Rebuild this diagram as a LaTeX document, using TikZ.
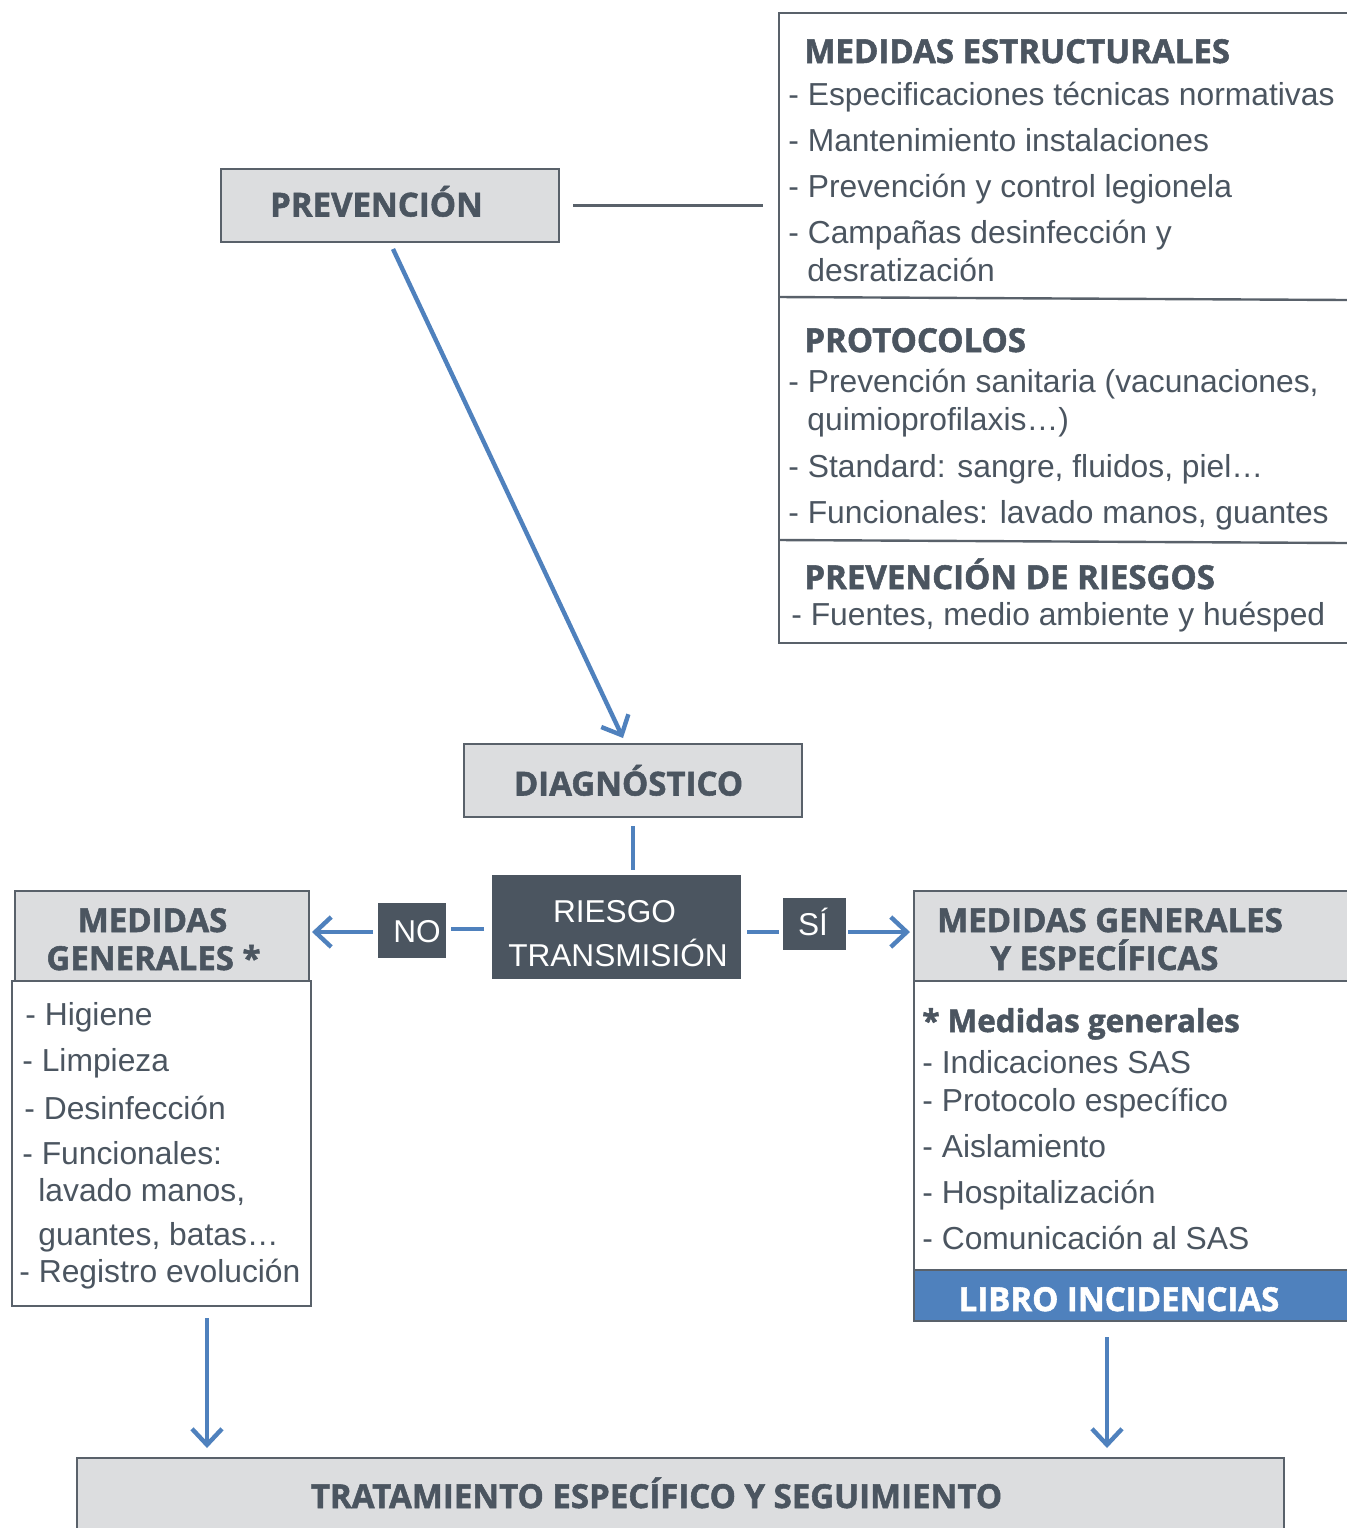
\documentclass[tikz,border=0pt]{standalone}
\usepackage{fontspec}
\setmainfont{Liberation Sans}
\newfontfamily\hd{Open Sans}[BoldFeatures={FakeBold=1.6}]
\usetikzlibrary{arrows.meta,calc}
\definecolor{ink}{HTML}{4B5560}
\definecolor{panel}{HTML}{DCDDDF}
\definecolor{flow}{HTML}{4F81BD}
\definecolor{edge}{HTML}{59616A}
\begin{document}
\begin{tikzpicture}[x=0.5pt,y=-0.5pt,
  bord/.style={draw=edge,line width=1.2pt},
  panelbox/.style={fill=panel,draw=edge,line width=1.2pt,inner sep=0,outer sep=0},
  darkbox/.style={fill=ink,inner sep=0,outer sep=0},
  area/.style={inner sep=0,outer sep=0},
  head/.style={anchor=base,text=ink,font=\hd\bfseries\fontsize{16.5}{20}\selectfont,inner sep=0},
  headl/.style={head,anchor=base west},
  item/.style={anchor=base west,text=ink,font=\fontsize{15.9}{19}\selectfont,inner sep=0},
  wtxt/.style={anchor=base,text=white,font=\fontsize{15.8}{19}\selectfont,inner sep=0},
  flowline/.style={draw=flow,line width=2.2pt},
  arr/.style={flowline,-{Straight Barb[length=8pt,width=15pt]}}]
\useasboundingbox[fill=white] (0,0) rectangle (1347,1528);

% ---------- prevention ----------
\node[panelbox,minimum width=169pt,minimum height=36.5pt] (prev) at (390,205.5) {};
\node[head] at (376.5,216.5) {PREVENCIÓN};

% ---------- structural measures panel (open on the right) ----------
\node[area,minimum width=284pt,minimum height=315pt] (estr) at (1063,328) {};
\draw[bord] (estr.north east) -- (estr.north west) -- (estr.south west) -- (estr.south east);
\draw[bord] (779,297) -- (1347,300);
\draw[bord] (779,540) -- (1347,543);
\draw[bord] ([xshift=7pt]prev.east) -- ([xshift=-8pt]prev.east -| estr.west);

\node[headl] at (804,63) {MEDIDAS ESTRUCTURALES};
\node[item] at (788,105) {- Especificaciones técnicas normativas};
\node[item] at (788,151) {- Mantenimiento instalaciones};
\node[item] at (788,197) {- Prevención y control legionela};
\node[item] at (788,243) {- Campañas desinfección y};
\node[item] at (807,281) {desratización};

\node[headl] at (804,352) {PROTOCOLOS};
\node[item] at (788,392) {- Prevención sanitaria (vacunaciones,};
\node[item] at (807,430) {quimioprofilaxis…)};
\node[item] at (788,477) {- Standard: sangre, fluidos, piel…};
\node[item] at (788,523) {- Funcionales: lavado manos, guantes};

\node[headl] at (804,589) {PREVENCIÓN DE RIESGOS};
\node[item] at (791,625) {- Fuentes, medio ambiente y huésped};

% ---------- diagnosis ----------
\node[panelbox,minimum width=169pt,minimum height=36.5pt] (diag) at (633,780.5) {};
\node[head] at (628.5,795.5) {DIAGNÓSTICO};

\draw[arr] ([xshift=1.5pt,yshift=-3.5pt]prev.south) -- ([xshift=-5pt,yshift=3pt]diag.north);

% ---------- transmission risk ----------
\node[darkbox,minimum width=124.5pt,minimum height=52pt] (risk) at (616.5,927) {};
\node[wtxt] at (614.5,922) {RIESGO};
\node[wtxt] at (618,966) {TRANSMISIÓN};

\node[darkbox,minimum width=34pt,minimum height=27.5pt] (no) at (412,930.5) {};
\node[wtxt] at (417,942) {NO};
\node[darkbox,minimum width=31.5pt,minimum height=26pt] (si) at (814.5,924) {};
\node[wtxt] at (813,935) {SÍ};

\draw[flowline] ([yshift=-4.5pt]diag.south) -- ($(diag.south |- risk.north)+(0,-5)$);

% ---------- general measures (left) ----------
\node[panelbox,minimum width=147pt,minimum height=45pt] (mglh) at (162,936) {};
\node[area,draw=edge,line width=1.2pt,minimum width=149.5pt,minimum height=162.5pt] (mgll) at (161.5,1143.5) {};
\node[head] at (152.5,932) {MEDIDAS};
\node[head] at (153.5,970) {GENERALES *};

\node[item] at (25,1025) {- Higiene};
\node[item] at (22,1071) {- Limpieza};
\node[item] at (24,1119) {- Desinfección};
\node[item] at (22,1164) {- Funcionales:};
\node[item] at (38,1201) {lavado manos,};
\node[item] at (38,1245) {guantes, batas…};
\node[item] at (19,1282) {- Registro evolución};

% ---------- general and specific measures (right, open on the right) ----------
\node[area,fill=panel,minimum width=216.5pt,minimum height=45pt] (mgeh) at (1130.5,936) {};
\node[area,minimum width=216.5pt,minimum height=144.5pt] (mgel) at (1130.5,1125.5) {};
\node[area,fill=flow,minimum width=216.5pt,minimum height=25.5pt] (libro) at (1130.5,1295.5) {};
\draw[bord] (mgeh.north east) -- (mgeh.north west) -- (libro.south west) -- (libro.south east);
\draw[bord] (mgeh.south west) -- (mgeh.south east);
\draw[bord] (libro.north west) -- (libro.north east);

\node[head] at (1110,932) {MEDIDAS GENERALES};
\node[head] at (1104.5,970) {Y ESPECÍFICAS};
\node[head,text=white] at (1119,1311) {LIBRO INCIDENCIAS};

\node[headl,font=\hd\bfseries\fontsize{15.7}{19}\selectfont] at (922,1032) {* Medidas generales};
\node[item] at (922,1073) {- Indicaciones SAS};
\node[item] at (922,1111) {- Protocolo específico};
\node[item] at (922,1157) {- Aislamiento};
\node[item] at (922,1203) {- Hospitalización};
\node[item] at (922,1249) {- Comunicación al SAS};

% ---------- risk branches ----------
\draw[flowline] ([xshift=-4pt,yshift=-1pt]risk.west) -- ([xshift=2.5pt,yshift=0.75pt]no.east);
\draw[arr] ([xshift=-2.5pt,yshift=-0.75pt]no.west) -- ([xshift=1.5pt,yshift=2pt]mglh.east);
\draw[flowline] ([xshift=3pt,yshift=-2.5pt]risk.east) -- ([xshift=-2pt,yshift=-4pt]si.west);
\draw[arr] ([xshift=1pt,yshift=-4pt]si.east) -- ([xshift=-2pt,yshift=2pt]mgeh.west);

% ---------- treatment ----------
\node[area,fill=panel,minimum width=603.5pt,minimum height=36pt] (trat) at (680.5,1494) {};
\draw[bord] (trat.south west) -- (trat.north west) -- (trat.north east) -- (trat.south east);
\node[head] at (656.5,1508) {TRATAMIENTO ESPECÍFICO Y SEGUIMIENTO};

\coordinate (lstart) at ($(mgll.south)+(45.5,12)$);
\coordinate (rstart) at ($(libro.south)+(-23.5,16)$);
\draw[arr] (lstart) -- ($(lstart |- trat.north)+(0,-10)$);
\draw[arr] (rstart) -- ($(rstart |- trat.north)+(0,-10)$);
\end{tikzpicture}
\end{document}
